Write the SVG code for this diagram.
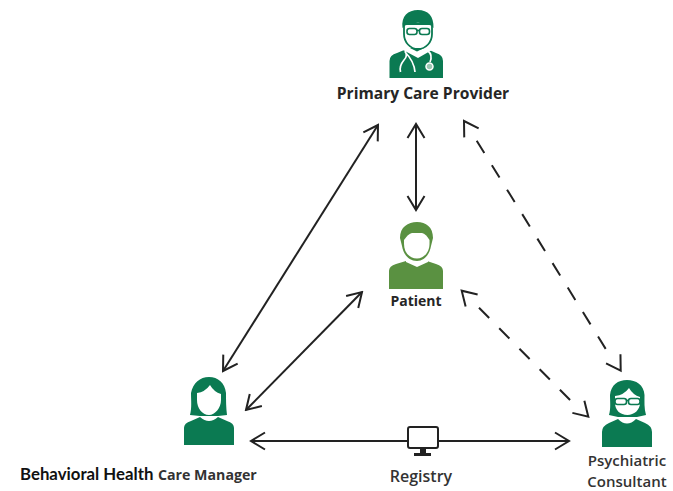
<svg xmlns="http://www.w3.org/2000/svg" width="673" height="491" viewBox="0 0 673 491">
<style>
.lbl{font-family:"Open Sans","Noto Sans",sans-serif;font-weight:700;fill:#262626;text-anchor:middle}
.reg{font-family:"Open Sans","Noto Sans",sans-serif;font-weight:600;fill:#333;text-anchor:middle}
.dk{fill:#0b7a52}.pt{fill:#5a9141}.w{fill:#fff}
.ln{stroke:#222;stroke-width:2;fill:none;marker-start:url(#a);marker-end:url(#a)}
.ah{stroke:none;fill:none;marker-start:url(#a);marker-end:url(#a)}
.ds{stroke:#222;stroke-width:2;fill:none;stroke-dasharray:14.5 14.3}
.gl{fill:none;stroke:#0b7a52;stroke-width:1.6}
.st{fill:none;stroke:#fff;stroke-width:1.7}
</style>
<defs><marker id="a" viewBox="-15 -10 17 20" refX="0" refY="0" markerWidth="17" markerHeight="20" markerUnits="userSpaceOnUse" orient="auto-start-reverse"><path d="M-14-8.5L0 0L-14 8.5" fill="none" stroke="#222" stroke-width="2"/></marker></defs>
<rect width="673" height="491" fill="#fff"/>
<g id="connectors">
<line class="ln" x1="378" y1="125" x2="223" y2="371"/>
<line class="ln" x1="416" y1="124" x2="416" y2="210"/>
<line class="ln" x1="362" y1="292" x2="246" y2="410"/>
<line class="ln" x1="251" y1="441" x2="569" y2="441"/>
<line class="ah" x1="464" y1="121" x2="620.7" y2="370.7"/>
<line class="ds" x1="476.7" y1="140.7" x2="607" y2="351"/>
<line class="ah" x1="461.7" y1="290.7" x2="588.3" y2="416.7"/>
<line class="ds" x1="479" y1="307.7" x2="572" y2="402"/>
</g>
<g id="primary-care-provider">
<path class="dk" d="M389.500 78V61Q389.500 55 397 53L409 48H425L436 53Q443 55 443 61V78Z"/>
<path class="w" d="M406 46L417 51.500L428 46L432 50L418 58L403 50Z"/>
<path class="w" stroke="#0b7a52" stroke-width="1.8" d="M404 24V34C404 42 410 49 418 49C426 49 432 42 432 34V24Z"/>
<path class="dk" d="M402.500 28C401 16 408 10 418 10C428 10 434 16 433.500 28L431 25.500Q418 20 405 25.500Z"/>
<rect class="gl" x="407" y="28.500" width="10" height="6" rx="2.500"/><rect class="gl" x="419.500" y="28.500" width="10" height="6" rx="2.500"/><path class="gl" d="M417 30.500H419.500"/>
<path class="st" d="M405 51Q408 56 404 60Q399 66 400.500 72M405 52Q414 61 415 72M428 51Q433 55 430 62"/>
<circle cx="429.500" cy="66.500" r="3.500" fill="#9cc7b2" stroke="#fff" stroke-width="1.500"/>
<text class="lbl" x="423" y="99" font-size="15.600">Primary Care Provider</text>
</g>
<g id="patient">
<path class="pt" d="M389 289V271Q389 266 396 264L406 261L417 265L427 261L436 264Q443 266 443 271V289Z"/>
<path class="w" d="M406 258L417 263L428 258V262L417 267L406 262Z"/>
<path class="pt" d="M400 238C400 227 408 222 417 222C426 222 433 227 433 238L431 246C430 253 425 261 417 261C408 261 403 253 402 246Z"/>
<path class="w" d="M404 240Q408 234 412 233H422Q426 234 429.500 240V244C429.500 252 424 258.500 417 258.500C409 258.500 404 252 404 244Z"/>
<text class="lbl" x="416" y="306" font-size="14">Patient</text>
</g>
<g id="behavioral-health-care-manager">
<path class="dk" d="M184 445V428Q184 423 191 421L200 417Q209 425 218 417L227 421Q234 423 234 428V445Z"/>
<path class="dk" d="M190 415C192 408 191 400 191 393C193 383 200 377 209 377C218 377 225 383 226 393C226 400 226 408 227 415L218 416L200 416Z"/>
<path class="w" d="M197 393Q205 392 210 385Q214 392 221 394V400C221 408 215 415 209 415C202 415 197 408 197 400Z"/>
<text x="20" y="480" style="font-family:Lato,'Open Sans',sans-serif;font-weight:700;font-size:16.800px;fill:#111">Behavioral Health</text>
<text x="158" y="480" style="font-family:'Open Sans',sans-serif;font-weight:700;font-size:14.200px;fill:#333">Care Manager</text>
</g>
<g id="psychiatric-consultant">
<path class="dk" d="M602 447V432Q602 426 609 423L618 419Q627 428 636 419L645 423Q652 426 652 432V447Z"/>
<path class="dk" d="M609 415C611 408 610 402 610 395C611 385 618 380 627 380C636 380 644 385 644.500 395C644.500 402 644 408 646 415L637 417L618 417Z"/>
<path class="w" d="M615 396Q624 395 629 388Q633 395 640 397V403C640 410 634 415 627.500 415C620 415 615 410 615 403Z"/>
<rect class="gl" x="615" y="398.500" width="11.500" height="6" rx="2.500"/><rect class="gl" x="628.500" y="398.500" width="11.500" height="6" rx="2.500"/><path class="gl" d="M626.500 400.500H628.500"/>
<text class="reg" x="627" y="465.500" font-size="15">Psychiatric</text>
<text class="reg" x="627" y="486.500" font-size="15">Consultant</text>
</g>
<g id="registry">
<rect x="408" y="427" width="30" height="21" rx="2" fill="#fff" stroke="#222" stroke-width="2"/>
<path d="M420 448H426V453H431V456H414V453H420Z" fill="#222"/>
<text class="reg" x="421" y="482" font-size="16">Registry</text>
</g>
</svg>
